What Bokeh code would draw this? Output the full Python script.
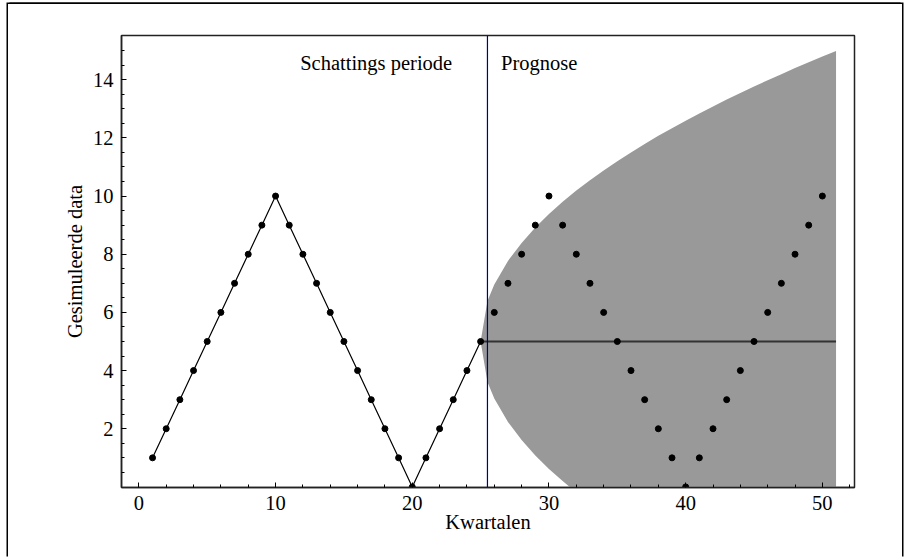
from bokeh.plotting import figure
from bokeh.models import Range1d, FixedTicker, Label, Span
from bokeh.embed import file_html
from bokeh.resources import INLINE

# ---- data ----
est_x = list(range(1, 26))
est_y = [1, 2, 3, 4, 5, 6, 7, 8, 9, 10, 9, 8, 7, 6, 5, 4, 3, 2, 1, 0, 1, 2, 3, 4, 5]
fc_x = list(range(26, 51))
fc_y = [6, 7, 8, 9, 10, 9, 8, 7, 6, 5, 4, 3, 2, 1, 0, 1, 2, 3, 4, 5, 6, 7, 8, 9, 10]

band_x = [25, 25.5, 26, 27, 28, 29, 30, 31, 32, 33, 34, 35, 36, 37, 38, 39, 40,
          41, 42, 43, 44, 45, 46, 47, 48, 49, 50, 51]
band_upper = [5.00, 6.39, 6.96, 7.77, 8.39, 8.92, 9.38, 9.80, 10.19, 10.54, 10.88,
              11.20, 11.50, 11.79, 12.07, 12.33, 12.59, 12.84, 13.08, 13.32, 13.54,
              13.77, 13.98, 14.19, 14.40, 14.60, 14.80, 14.99]
band_lower = [5.00, 3.61, 3.04, 2.23, 1.61, 1.08, 0.62, 0.20, -0.19, -0.54, -0.88,
              -1.20, -1.50, -1.79, -2.07, -2.33, -2.59, -2.84, -3.08, -3.32, -3.54,
              -3.77, -3.98, -4.19, -4.40, -4.60, -4.80, -4.99]

mean_x = [25, 51]
mean_y = [5, 5]
split_x = 25.5

x_major = [0, 10, 20, 30, 40, 50]
x_minor = [2, 4, 6, 8, 12, 14, 16, 18, 22, 24, 26, 28, 32, 34, 36, 38, 42, 44, 46, 48, 52]
y_major = [2, 4, 6, 8, 10, 12, 14]
y_minor = [0.5 * i for i in range(1, 31)]

FONT = "Liberation Serif"
FS = "20.5px"

p = figure(width=894, height=554, output_backend="svg", toolbar_location=None,
           x_range=Range1d(-1.27, 52.35), y_range=Range1d(-0.02, 15.52),
           min_border_left=113, min_border_right=48, min_border_top=31,
           min_border_bottom=71,
           x_axis_label="Kwartalen", y_axis_label="Gesimuleerde data")
p.margin = (4, 0, 0, 8)
p.styles = {"box-shadow": "-1.5px -1.5px 0 0 black, 1.5px -1.5px 0 0 black"}
p.grid.visible = False
p.background_fill_color = "white"
p.border_fill_color = "white"
p.outline_line_color = "#222222"
p.outline_line_width = 1.5

for ax, maj, mnr in ((p.xaxis[0], x_major, x_minor), (p.yaxis[0], y_major, y_minor)):
    ax.ticker = FixedTicker(ticks=maj, minor_ticks=mnr)
    ax.major_tick_in = 5
    ax.major_tick_out = 0
    ax.minor_tick_in = 3
    ax.minor_tick_out = 0
    ax.axis_line_color = "#222222"
    ax.axis_line_width = 1.5
    ax.major_tick_line_color = "black"
    ax.minor_tick_line_color = "black"
    ax.major_label_text_font = FONT
    ax.major_label_text_font_size = FS
    ax.major_label_text_color = "black"
    ax.axis_label_text_font = FONT
    ax.axis_label_text_font_size = FS
    ax.axis_label_text_font_style = "normal"
    ax.axis_label_text_color = "black"
p.xaxis[0].major_label_standoff = 8
p.yaxis[0].major_label_standoff = 8
p.xaxis[0].axis_label_standoff = -2
p.yaxis[0].axis_label_standoff = 4

# forecast band
p.varea(x=band_x, y1=band_lower, y2=band_upper, fill_color="#999999", fill_alpha=1.0)
# mean forecast line
p.line(mean_x, mean_y, line_color="#333333", line_width=1.8)
# estimation-period line and points
p.line(est_x, est_y, line_color="black", line_width=1.2)
p.scatter(est_x, est_y, size=6, color="black")
p.scatter(fc_x, fc_y, size=6, color="black")
# split line
p.add_layout(Span(location=split_x, dimension="height", line_color="#000080", line_width=1.2))

p.add_layout(Label(x=11.8, y=14.56, text="Schattings periode", text_font=FONT,
                   text_font_size=FS, text_color="black", text_baseline="alphabetic"))
p.add_layout(Label(x=26.5, y=14.56, text="Prognose", text_font=FONT,
                   text_font_size=FS, text_color="black", text_baseline="alphabetic"))

open("out.html", "w").write(file_html(p, INLINE))
